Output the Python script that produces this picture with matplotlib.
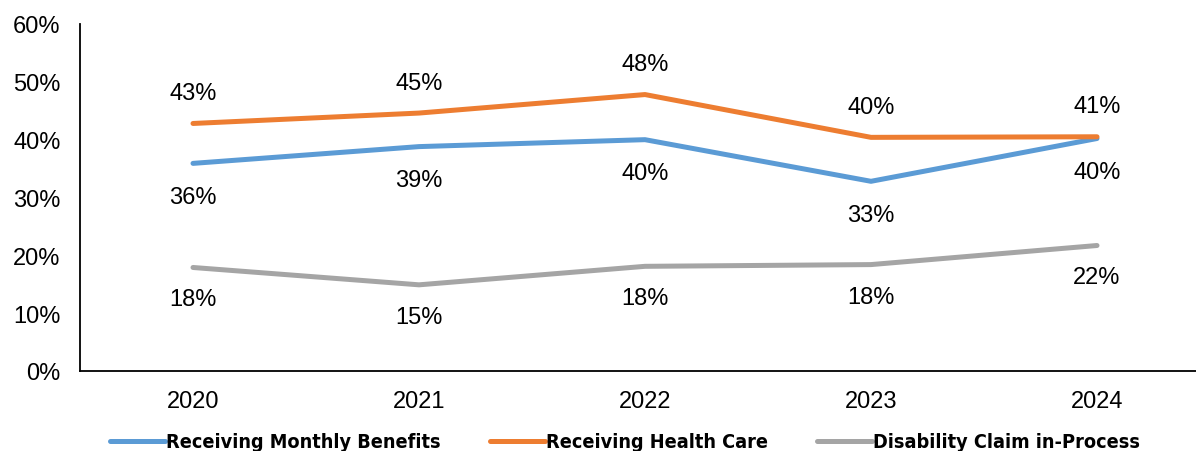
import matplotlib.pyplot as plt
from matplotlib import font_manager

# data
years = ["2020", "2021", "2022", "2023", "2024"]
monthly = [35.9, 38.8, 40.0, 32.8, 40.2]
health = [42.8, 44.6, 47.8, 40.4, 40.5]
claim = [17.9, 14.9, 18.1, 18.4, 21.7]
monthly_lbl = ["36%", "39%", "40%", "33%", "40%"]
health_lbl = ["43%", "45%", "48%", "40%", "41%"]
claim_lbl = ["18%", "15%", "18%", "18%", "22%"]

plt.rcParams['font.family'] = ['Liberation Sans', 'DejaVu Sans']
names = {f.name for f in font_manager.fontManager.ttflist}
if 'DejaVu Sans Condensed' in names:
    leg_prop = {'family': 'DejaVu Sans Condensed', 'weight': 'bold', 'size': 14.2}
else:
    leg_prop = {'family': 'DejaVu Sans', 'stretch': 'condensed', 'weight': 'bold', 'size': 14.2}

fig = plt.figure(figsize=(11.96, 4.52), dpi=100)
ax = fig.add_axes([80/1196, 80/452, 1130/1196, 347/452])

x = range(len(years))
series = [
    ("Receiving Monthly Benefits", monthly, monthly_lbl, "#5B9BD5", -24),
    ("Receiving Health Care", health, health_lbl, "#ED7D31", 22),
    ("Disability Claim in-Process", claim, claim_lbl, "#A5A5A5", -23),
]
for name, vals, lbls, col, off in series:
    ax.plot(x, vals, color=col, lw=3.6, solid_capstyle='round', label=name)
    for xi, v, t in zip(x, vals, lbls):
        ax.annotate(t, (xi, v), xytext=(0, off), textcoords='offset points',
                    ha='center', va='center', fontsize=17)

ax.set_xlim(-0.5, 4.5)
ax.set_ylim(0, 60)
ax.set_yticks(range(0, 61, 10))
ax.set_yticklabels([f"{v}%" for v in range(0, 61, 10)], fontsize=17)
ax.set_xticks(list(x))
ax.set_xticklabels(years, fontsize=17)
ax.tick_params(length=0, pad=13.5)
ax.tick_params(axis='y', pad=14)
for s in ['top', 'right']:
    ax.spines[s].set_visible(False)
for s in ['left', 'bottom']:
    ax.spines[s].set_linewidth(1.3)

fig.legend(loc='center', bbox_to_anchor=(0.5226, 1 - 443/452), ncol=3, frameon=False,
           prop=leg_prop, handlelength=2.8, handletextpad=0.05, columnspacing=2.5)

fig.savefig("out.png", dpi=100)
